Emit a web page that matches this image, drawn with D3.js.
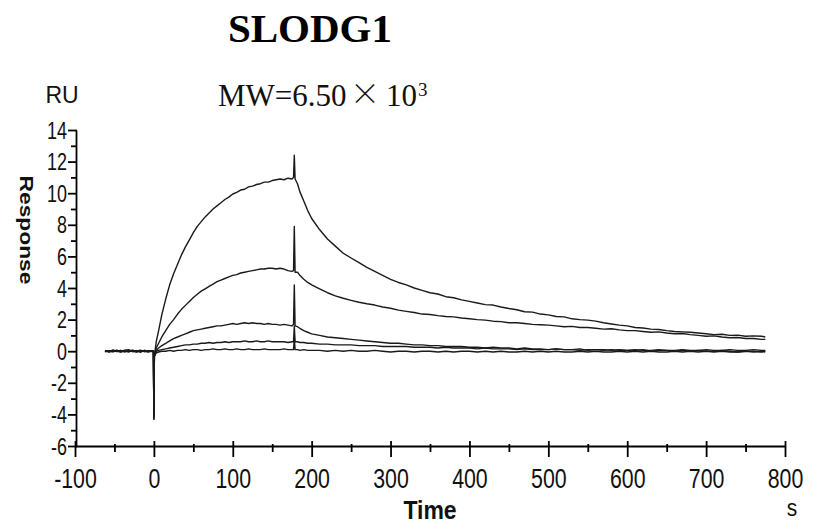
<!DOCTYPE html>
<html>
<head>
<meta charset="utf-8">
<script src="https://cdn.jsdelivr.net/npm/d3@7"></script>
<style>
  body { margin: 0; background: #fff; }
  svg { display: block; }
  .axis path, .axis line { stroke: #000; stroke-width: 1.8; }
  .axis text { fill: #111; font-family: "Liberation Sans", Arial, sans-serif; }
</style>
</head>
<body>
<svg id="chart" width="818" height="524"></svg>
<script>
// time (s) shared by every sensorgram
var times = [-62,-57,-52,-47,-42,-37,-32,-27,-22,-17,-12,-7,-3,-0.6,0,0.6,
  3,6,10,15,20,25,30,35,40,45,50,55,60,65,70,75,80,85,90,95,100,105,110,115,120,125,130,135,140,145,150,155,160,165,170,175,
  177,178,179,
  182,185,190,195,200,210,220,230,240,250,260,270,280,290,300,310,320,330,340,350,360,370,380,390,400,
  410,420,430,440,450,460,470,480,490,500,510,520,530,540,550,560,570,580,590,600,
  610,620,630,640,650,660,670,680,690,700,710,720,730,740,750,760,770,775]

// response (RU), highest concentration first
var resp1 = [0.05,-0.04,0.08,0.0,-0.05,0.06,0.1,-0.02,0.04,-0.06,0.05,0.0,0.03,0.0,-4.3,-0.3,
  0.6,1.3,2.3,3.3,4.2,4.9,5.5,6.1,6.6,7.05,7.5,7.9,8.2,8.5,8.75,9.0,9.2,9.4,9.6,9.75,9.95,10.05,10.2,10.25,10.4,10.45,10.55,10.6,10.7,10.7,10.8,10.85,10.9,10.85,10.95,10.9,
  11.0,12.4,10.9,
  10.6,10.1,9.5,8.9,8.4,7.7,7.1,6.65,6.2,5.9,5.6,5.3,5.05,4.8,4.55,4.35,4.2,4.0,3.85,3.7,3.62,3.45,3.38,3.25,3.15,
  3.05,2.95,2.92,2.8,2.7,2.62,2.5,2.47,2.35,2.3,2.2,2.17,2.05,2.0,1.97,1.9,1.8,1.72,1.65,1.6,
  1.5,1.47,1.4,1.37,1.3,1.25,1.22,1.2,1.15,1.1,1.05,1.07,1.0,1.02,0.95,0.97,0.95,0.9]
var resp2 = [-0.03,0.04,0.0,0.06,-0.04,0.02,-0.05,0.05,0.0,0.07,-0.03,0.04,-0.02,0.0,-4.1,-0.25,
  0.2,0.5,0.9,1.3,1.7,2.0,2.35,2.65,2.9,3.15,3.4,3.6,3.8,3.95,4.1,4.25,4.4,4.5,4.6,4.7,4.8,4.85,4.95,5.0,5.05,5.1,5.15,5.2,5.2,5.25,5.25,5.2,5.25,5.2,5.1,5.05,
  5.1,7.9,5.0,
  5.0,4.8,4.55,4.35,4.2,3.95,3.7,3.5,3.35,3.22,3.1,3.0,2.92,2.8,2.72,2.6,2.52,2.45,2.35,2.32,2.25,2.2,2.17,2.1,2.05,
  2.0,1.97,1.9,1.87,1.8,1.8,1.75,1.7,1.67,1.65,1.6,1.55,1.57,1.5,1.5,1.45,1.4,1.42,1.35,1.3,
  1.3,1.25,1.2,1.22,1.15,1.1,1.12,1.05,1.0,0.95,0.97,0.9,0.85,0.87,0.8,0.8,0.75,0.75]
var resp3 = [0.02,-0.05,0.03,-0.02,0.05,-0.03,0.0,0.06,-0.04,0.02,0.0,-0.05,0.03,0.0,-4.2,-0.3,
  0.05,0.2,0.35,0.5,0.65,0.8,0.9,1.0,1.1,1.2,1.3,1.35,1.4,1.45,1.5,1.55,1.6,1.6,1.65,1.7,1.75,1.7,1.75,1.8,1.75,1.8,1.75,1.75,1.7,1.75,1.7,1.7,1.65,1.7,1.65,1.6,
  1.7,4.2,1.6,
  1.55,1.45,1.3,1.2,1.1,1.0,0.9,0.85,0.8,0.75,0.7,0.65,0.6,0.55,0.5,0.5,0.45,0.4,0.4,0.35,0.35,0.3,0.3,0.3,0.25,
  0.25,0.2,0.25,0.2,0.2,0.15,0.2,0.15,0.15,0.1,0.15,0.1,0.1,0.15,0.05,0.1,0.1,0.05,0.1,0.05,
  0.05,0.1,0.0,0.05,0.05,0.0,0.05,0.0,0.05,0.0,0.0,0.05,0.0,-0.05,0.0,0.0,-0.05,0.0]
var resp4 = [-0.04,0.03,-0.02,0.05,0.0,-0.04,0.04,-0.03,0.02,-0.05,0.05,-0.02,0.0,0.0,-4.3,-0.35,
  0.0,0.05,0.1,0.15,0.2,0.25,0.3,0.35,0.4,0.4,0.45,0.45,0.5,0.5,0.55,0.5,0.55,0.55,0.6,0.55,0.6,0.6,0.6,0.65,0.6,0.6,0.65,0.6,0.6,0.65,0.6,0.6,0.6,0.6,0.55,0.6,
  0.6,1.6,0.6,
  0.6,0.55,0.55,0.5,0.5,0.45,0.45,0.4,0.4,0.4,0.35,0.35,0.35,0.3,0.3,0.3,0.3,0.25,0.25,0.25,0.2,0.25,0.2,0.2,0.2,
  0.15,0.2,0.15,0.15,0.15,0.1,0.15,0.1,0.1,0.1,0.15,0.1,0.1,0.05,0.1,0.1,0.05,0.1,0.05,0.05,
  0.1,0.05,0.05,0.1,0.05,0.05,0.1,0.05,0.05,0.1,0.05,0.05,0.1,0.05,0.05,0.1,0.05,0.05]
var resp5 = [0.03,0.0,-0.04,0.02,0.04,-0.02,0.03,0.0,-0.05,0.04,-0.02,0.03,0.0,0.0,-4.0,-0.3,
  -0.1,-0.05,0.0,0.0,0.05,0.0,0.05,0.05,0.1,0.05,0.1,0.1,0.05,0.1,0.1,0.15,0.1,0.1,0.15,0.1,0.1,0.15,0.1,0.1,0.15,0.1,0.1,0.1,0.15,0.1,0.1,0.1,0.1,0.15,0.1,0.1,
  0.1,0.8,0.1,
  0.1,0.05,0.1,0.05,0.05,0.05,0.0,0.05,0.0,0.05,0.0,0.0,0.05,0.0,-0.05,0.0,0.0,-0.05,0.0,0.0,-0.05,0.0,-0.05,0.0,0.0,
  -0.05,0.0,-0.05,0.0,-0.05,-0.05,0.0,-0.05,0.0,-0.05,0.0,-0.05,-0.05,0.0,-0.05,0.0,-0.05,-0.05,0.0,-0.05,
  0.0,-0.05,0.0,-0.05,-0.05,0.0,-0.05,0.0,-0.05,0.0,-0.05,0.0,-0.05,-0.05,0.0,-0.05,0.0,-0.05]

var xMajor = [-100,0,100,200,300,400,500,600,700,800]
var xMinor = [-50,50,150,250,350,450,550,650,750]
var yMajor = [-6,-4,-2,0,2,4,6,8,10,12,14]
var yMinor = [-5,-3,-1,1,3,5,7,9,11,13]

var series = [resp1, resp2, resp3, resp4, resp5]

var svg = d3.select("#chart")
var x = d3.scaleLinear().domain([-100, 800]).range([75, 785])
var y = d3.scaleLinear().domain([-6, 14]).range([446, 130])

// titles
svg.append("text").attr("x", 310).attr("y", 42).attr("text-anchor", "middle")
  .style("font-family", "'Liberation Serif', 'Times New Roman', serif")
  .style("font-weight", "bold").style("font-size", "41px").text("SLODG1")

var mw = svg.append("g").style("font-family", "'Liberation Serif', 'Times New Roman', serif").style("fill", "#111")
mw.append("text").attr("x", 218).attr("y", 106).style("font-size", "31px").text("MW=6.50")
mw.append("text").attr("x", 365).attr("y", 104).attr("text-anchor", "middle")
  .style("font-family", "'Noto Sans CJK SC', sans-serif").style("font-weight", "300").style("font-size", "30px").text("×")
mw.append("text").attr("x", 386).attr("y", 106).style("font-size", "31px").text("10")
mw.append("text").attr("x", 418).attr("y", 96).style("font-size", "19px").text("3")

// axes
var gx = svg.append("g").attr("class", "axis").attr("transform", "translate(0,446)")
  .call(d3.axisBottom(x).tickValues(xMajor).tickSize(11).tickSizeOuter(0).tickFormat(d => String(d)))
gx.selectAll(".tick line").attr("y1", -5)
gx.selectAll(".tick text").attr("y", 42).attr("dy", 0)
  .attr("transform", "scale(0.79,1)").style("font-size", "27px")

var gxm = svg.append("g").attr("class", "axis").attr("transform", "translate(0,446)")
  .call(d3.axisBottom(x).tickValues(xMinor).tickSize(6).tickFormat(""))
gxm.select(".domain").remove()
gxm.selectAll(".tick line").attr("y1", -2)

var gy = svg.append("g").attr("class", "axis").attr("transform", "translate(76,0)")
  .call(d3.axisLeft(y).tickValues(yMajor).tickSize(8).tickSizeOuter(0).tickFormat(d => String(d)))
gy.selectAll(".tick line").attr("x1", 1)
gy.selectAll(".tick text").attr("x", -11.5).attr("dy", "0.35em")
  .attr("transform", "scale(0.78,1)").style("font-size", "23px")

var gym = svg.append("g").attr("class", "axis").attr("transform", "translate(76,0)")
  .call(d3.axisLeft(y).tickValues(yMinor).tickSize(5).tickFormat(""))
gym.select(".domain").remove()

// axis titles
var lab = svg.append("g").style("font-family", "'Liberation Sans', Arial, sans-serif").style("fill", "#111")
lab.append("text").attr("x", 62).attr("y", 103).attr("text-anchor", "middle").style("font-size", "23px").text("RU")
lab.append("text").attr("transform", "translate(20,230) rotate(90) scale(1.2,1)")
  .attr("text-anchor", "middle").style("font-weight", "bold").style("font-size", "19px").text("Response")
lab.append("text").attr("transform", "translate(430,519) scale(1,1.1)")
  .attr("text-anchor", "middle").style("font-weight", "bold").style("font-size", "23px").text("Time")
lab.append("text").attr("transform", "translate(792,516) scale(1,1.15)")
  .attr("text-anchor", "middle").style("font-size", "21px").text("s")

// sensorgrams
var line = d3.line().x((d, i) => x(times[i])).y(d => y(d))
svg.append("g").selectAll("path").data(series).join("path")
  .attr("d", line)
  .attr("fill", "none")
  .attr("stroke", "#1a1a1a")
  .attr("stroke-width", 1.4)
  .attr("stroke-linejoin", "round")
</script>
</body>
</html>
